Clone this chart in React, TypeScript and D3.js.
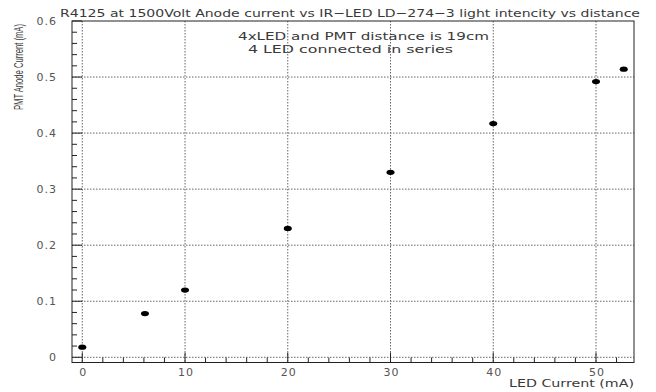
import React from 'react';
import * as d3 from 'd3';

// LED current (mA) vs PMT anode current (mA)
const ledCurrent = [0, 6.1, 10, 20, 30, 40, 50, 52.7];
const anodeCurrent = [0.018, 0.078, 0.12, 0.23, 0.33, 0.417, 0.492, 0.514];

const xTicks = [0, 10, 20, 30, 40, 50];
const yTicks = [0, 0.1, 0.2, 0.3, 0.4, 0.5, 0.6];
const yTickLabels = ['0', '0.1', '0.2', '0.3', '0.4', '0.5', '0.6'];

const title = 'R4125 at 1500Volt Anode current vs IR\u2212LED LD\u2212274\u22123 light intencity vs distance';
const note1 = '4xLED and PMT distance is 19cm';
const note2 = '4 LED connected in series';

const W = 656;
const H = 392;
const frame = { left: 72, right: 634, top: 21, bottom: 362.5 };
const font = "'DejaVu Sans', Verdana, sans-serif";
const textColor = '#3a3a3a';

export default function App() {
  const x = d3.scaleLinear().domain([-1.0, 53.7]).range([frame.left, frame.right]);
  const y = d3.scaleLinear().domain([-0.0093, 0.6]).range([frame.bottom, frame.top]);

  const xMinor = d3.range(0, 54, 2).filter(v => v % 10 !== 0);
  const yMinor = d3.range(0, 0.6, 0.02).filter(v => Math.abs(v * 10 - Math.round(v * 10)) > 1e-6);

  const points = ledCurrent.map((v, i) => ({ x: v, y: anodeCurrent[i] }));

  return (
    <svg width={W} height={H} style={{ position: 'absolute', left: 0, top: 0, background: '#fff' }}>
      <rect width={W} height={H} fill="#fff" />
      {/* grid */}
      <g stroke="#666" strokeWidth={1} strokeDasharray="1.5,1.5">
        {xTicks.map(t => (
          <line key={'gx' + t} x1={x(t)} x2={x(t)} y1={frame.top} y2={frame.bottom} />
        ))}
        {yTicks.slice(0, -1).map(t => (
          <line key={'gy' + t} x1={frame.left} x2={frame.right} y1={y(t)} y2={y(t)} />
        ))}
      </g>
      {/* ticks */}
      <g stroke="#222" strokeWidth={1}>
        {xTicks.map(t => (
          <line key={'tx' + t} x1={x(t)} x2={x(t)} y1={frame.bottom} y2={frame.bottom - 10} />
        ))}
        {xMinor.map(t => (
          <line key={'mx' + t} x1={x(t)} x2={x(t)} y1={frame.bottom} y2={frame.bottom - 5} />
        ))}
        {yTicks.map(t => (
          <line key={'ty' + t} x1={frame.left} x2={frame.left + 10} y1={y(t)} y2={y(t)} />
        ))}
        {yMinor.map(t => (
          <line key={'my' + t} x1={frame.left} x2={frame.left + 5} y1={y(t)} y2={y(t)} />
        ))}
      </g>
      {/* frame */}
      <rect
        x={frame.left}
        y={frame.top}
        width={frame.right - frame.left}
        height={frame.bottom - frame.top}
        fill="none"
        stroke="#222"
        strokeWidth={1}
      />
      {/* tick labels */}
      <g fontFamily={font} fontSize={11} fill="#555" letterSpacing={1}>
        {xTicks.map(t => (
          <text key={'lx' + t} x={x(t) + 1} y={frame.bottom + 13} textAnchor="middle">
            {t}
          </text>
        ))}
        {yTicks.map((t, i) => (
          <text key={'ly' + t} x={57} y={y(t) + 4} textAnchor="end">
            {yTickLabels[i]}
          </text>
        ))}
      </g>
      {/* axis titles */}
      <text
        x={509}
        y={387}
        fontFamily={font}
        fontSize={11}
        fill={textColor}
        textLength={125}
        lengthAdjust="spacingAndGlyphs"
      >
        LED Current (mA)
      </text>
      <text
        transform={`translate(23,24) rotate(-90)`}
        textAnchor="end"
        fontFamily="'Liberation Sans Narrow', 'Liberation Sans', sans-serif"
        fontSize={12.5}
        fill={textColor}
        textLength={86}
        lengthAdjust="spacingAndGlyphs"
      >
        PMT Anode Current (mA)
      </text>
      {/* title and notes */}
      <text x={60} y={17} fontFamily={font} fontSize={11} fill={textColor} textLength={580} lengthAdjust="spacingAndGlyphs">
        {title}
      </text>
      <text x={238} y={40} fontFamily={font} fontSize={11} fill={textColor} textLength={251} lengthAdjust="spacingAndGlyphs">
        {note1}
      </text>
      <text x={248} y={53} fontFamily={font} fontSize={11} fill={textColor} textLength={205} lengthAdjust="spacingAndGlyphs">
        {note2}
      </text>
      {/* markers */}
      <g fill="#000">
        {points.map((p, i) => (
          <ellipse key={'p' + i} cx={x(p.x)} cy={y(p.y)} rx={4} ry={2.6} />
        ))}
      </g>
    </svg>
  );
}
